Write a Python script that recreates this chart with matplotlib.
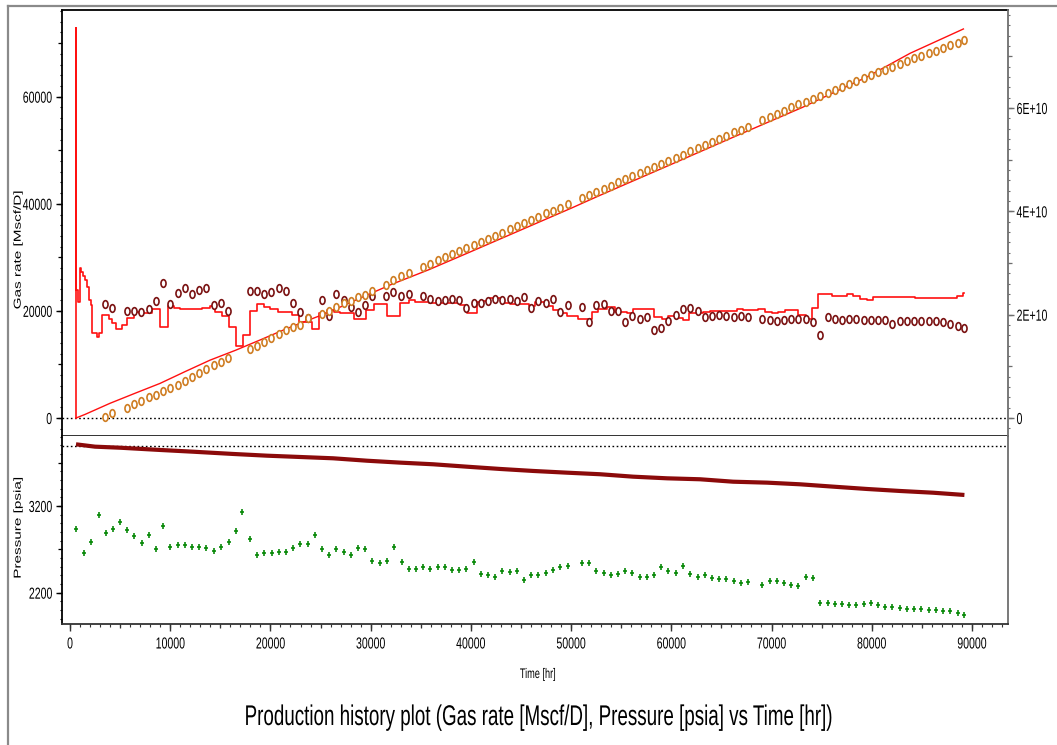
import matplotlib
matplotlib.use('Agg')
import numpy as np
import matplotlib.pyplot as plt
from matplotlib.ticker import MultipleLocator, FuncFormatter, NullLocator, NullFormatter
from matplotlib.lines import Line2D
from matplotlib.path import Path
from matplotlib.patheffects import AbstractPathEffect
from matplotlib.transforms import Affine2D, Bbox
from matplotlib.text import Text

# ---------------- data ----------------
# gas rate step history [Mscf/D] (step starts, hr)
t_rate = [595, 599, 640, 800, 950, 1100, 1300, 1500, 1700, 1900, 2096, 2196, 2695, 2928, 3194,
          3859, 4192, 4624, 5190, 5689, 6355, 6920, 8184, 9013, 9778, 10344, 11010, 13174,
          14006, 14505, 15170, 15836, 16568, 17267, 17999, 18665, 19330, 19996, 20761, 22158,
          22823, 24154, 24886, 25651, 26316, 26982, 28313, 29544, 30309, 31640, 32971, 33803,
          34468, 35799, 38959, 39625, 40623, 41188, 41953, 43051, 43883, 45779, 46444, 47405,
          48237, 48902, 49568, 50732, 52063, 52729, 53560, 54392, 55556, 56221, 58284, 59049,
          59714, 60380, 61145, 61810, 63208, 63873, 66535, 67200, 68697, 69363, 70028, 70693,
          71359, 72690, 73400, 74020, 74686, 76016, 77513, 78178, 78844, 79509, 80174, 83667,
          84333, 88491, 89156, 89222]
q_rate = [0, 72900, 23900, 21700, 28000, 27300, 26500, 25800, 24500, 22050, 21120, 15820, 15200,
          15820, 19250, 18440, 17690, 16630, 17380, 18630, 19870, 19690, 20310, 17070, 20930,
          20500, 20310, 20560, 20930, 19870, 19060, 17070, 13460, 15510, 19990, 21370, 20810,
          20430, 19870, 19250, 18000, 16570, 19560, 20190, 19870, 19690, 18500, 20190, 21310,
          19130, 21430, 22050, 21740, 21430, 21180, 19690, 21740, 21930, 22370, 21430, 21240,
          20930, 21740, 20930, 20190, 19560, 19130, 18440, 19870, 20370, 20680, 19870, 19560,
          20310, 18810, 18500, 19130, 18630, 18320, 19690, 19870, 20000, 20310, 20120, 20310,
          19870, 19690, 19870, 20120, 19190, 18440, 20620, 23110, 22860, 23110, 22800, 22300,
          21990, 22550, 22680, 22490, 22800, 23300, 23300]

# cumulative gas (simulated line) [scf]
t_cum = [599, 1500, 3992, 6500, 8982, 11500, 13972, 16500, 18962, 21500, 23860, 25618, 28942,
         32000, 35800, 40000, 45000, 50000, 53000, 60000, 66000, 73060, 76000, 79510, 83840, 89150]
g_cum = [0.0, 0.7e9, 2.85e9, 4.8e9, 6.7e9, 9.0e9, 11.2e9, 13.1e9, 15.1e9, 17.2e9, 19.0e9,
         20.3e9, 23.2e9, 25.8e9, 28.7e9, 32.2e9, 36.4e9, 40.6e9, 43.2e9, 49.1e9, 54.2e9,
         60.1e9, 62.8e9, 66.0e9, 70.6e9, 75.3e9]

# measured gas rate & cumulative (circles)
t_circ = [3523, 4222, 5719, 6387, 7116, 7855, 8613, 9312, 9980, 10749, 11447, 12206, 12874,
          13573, 14371, 15070, 15768, 17934, 18633, 19331, 20090, 20828, 21527, 22225, 22954,
          23722, 25150, 25878, 26547, 27315, 28014, 28713, 29470, 30169, 31567, 32265, 33034,
          33802, 35229, 35928, 36696, 37395, 38153, 38852, 39521, 40319, 41018, 41686, 42415,
          43143, 43881, 44610, 45308, 46007, 46735,
          47505, 48203, 48902, 49670, 51130, 51830, 52525, 53260, 53960, 54660, 55420, 56120,
          56890, 57550, 58250, 59010, 59710, 60450, 61180, 61880, 62640, 63340, 64070, 64770,
          65470, 66230, 66930, 67630, 69090, 69830, 70560, 71260, 71990, 72690, 73450, 74150,
          74850, 75620, 76310, 77010, 77780, 78470, 79210, 79910, 80610, 81340, 82060, 82800,
          83530, 84230, 84960, 85700, 86430, 87130, 87820, 88590, 89250]
q_circ = [21306, 20559, 20060, 20060, 19811, 20310, 21805, 25169, 21306, 23425, 24235, 23238,
          23985, 24235, 21057, 21555, 20060, 23736, 23674, 23238, 23487, 24235, 23736, 21555,
          19811, 18627, 21992, 19063, 23238, 21992, 20808, 19811, 21057, 22739, 22739, 23487,
          22739, 23238, 22739, 22241, 21805, 21992, 22241, 21992, 20559, 21555, 21555, 21805,
          22241, 21992, 22241, 21805, 22553, 20559, 21805,
          21555, 22303, 19811, 21057, 20808, 18005, 21057, 21306, 20060, 20060, 17880, 19063,
          18565, 18814, 16385, 16883, 18129, 19313, 20310, 20559, 20060, 18814, 19063, 19313,
          19063, 18814, 19063, 18814, 18565, 18316, 18129, 18316, 18565, 18565, 18565, 17880,
          15450, 18814, 18565, 18316, 18565, 18565, 18316, 18316, 18316, 18316, 17631, 18129,
          18129, 18129, 18129, 18129, 18129, 17880, 17631, 17132, 16883]
g_circ = [0.25e9, 1.0e9, 2.0e9, 2.8e9, 3.2e9, 4.0e9, 4.5e9, 5.3e9, 5.9e9, 6.4e9, 7.2e9, 8.0e9,
          8.8e9, 9.5e9, 10.3e9, 10.8e9, 11.6e9, 13.3e9, 13.9e9, 14.8e9, 15.5e9, 16.3e9, 17.0e9,
          17.6e9, 18.1e9, 19.3e9, 20.1e9, 20.7e9, 21.4e9, 22.2e9, 22.7e9, 23.5e9, 23.8e9,
          24.6e9, 25.8e9, 26.7e9, 27.4e9, 28.1e9, 29.3e9, 29.9e9, 30.5e9, 31.1e9, 31.7e9,
          32.3e9, 32.9e9, 33.5e9, 34.1e9, 34.7e9, 35.3e9, 35.9e9, 36.5e9, 37.1e9, 37.7e9,
          38.3e9, 38.9e9,
          39.6e9, 40.1e9, 40.7e9, 41.4e9, 42.6e9, 43.2e9, 43.8e9, 44.4e9, 45.0e9, 45.6e9,
          46.2e9, 46.8e9, 47.4e9, 48.0e9, 48.6e9, 49.2e9, 49.8e9, 50.4e9, 51.0e9, 51.6e9,
          52.2e9, 52.8e9, 53.4e9, 54.0e9, 54.6e9, 55.3e9, 55.8e9, 56.4e9, 57.6e9, 58.3e9,
          58.9e9, 59.5e9, 60.1e9, 60.7e9, 61.2e9, 61.8e9, 62.3e9, 62.9e9, 63.5e9, 64.0e9,
          64.6e9, 65.2e9, 65.8e9, 66.3e9, 66.9e9, 67.4e9, 68.0e9, 68.6e9, 69.1e9, 69.6e9,
          70.1e9, 70.6e9, 71.1e9, 71.6e9, 72.1e9, 72.6e9, 73.2e9]

# simulated pressure line [psia]
t_pres = [599, 2495, 4990, 8982, 12275, 16267, 19660, 22954, 26247, 29641, 32934, 36227, 39621,
          42914, 46207, 49601, 52894, 56187, 59581, 62874, 66167, 69561, 72854, 76147, 79541,
          82834, 86127, 89251]
p_pres = [3911, 3884, 3872, 3846, 3826, 3800, 3780, 3765, 3750, 3722, 3700, 3681, 3653, 3627,
          3604, 3584, 3566, 3538, 3519, 3508, 3480, 3469, 3450, 3423, 3396, 3373, 3353, 3327]

# measured pressure (green crosses)
t_obs = [599, 1397, 2096, 2864, 3563, 4262, 5020, 5719, 6387, 7156, 7855, 8613, 9312, 9980,
         10749, 11477, 12206, 12904, 13603, 14371, 15070, 15838, 16537, 17195, 17964, 18692,
         19361, 20129, 20828, 21557, 22255, 22954, 23722, 24451, 25180, 25878, 26547, 27315,
         28014, 28713, 29480, 30179, 30938, 31636, 32335, 33103, 33802, 34530, 35229, 35928,
         36696, 37395, 38153, 38852, 39521, 40319, 41018, 41686, 42415, 43143, 43881, 44610,
         45308, 46007, 46735,
         47505, 48203, 48902, 49670, 51130, 51830, 52525, 53260, 53960, 54660, 55420, 56120,
         56890, 57550, 58250, 59010, 59710, 60450, 61180, 61880, 62640, 63340, 64070, 64770,
         65470, 66230, 66930, 67630, 69090, 69830, 70560, 71260, 71990, 72690, 73450, 74150,
         74850, 75620, 76310, 77010, 77780, 78470, 79210, 79910, 80610, 81340, 82060, 82800,
         83530, 84230, 84960, 85700, 86430, 87130, 87820, 88590, 89250]
p_obs = [2939, 2654, 2789, 3092, 2893, 2939, 3016, 2923, 2850, 2777, 2870, 2700, 2973, 2731,
         2747, 2747, 2731, 2731, 2716, 2685, 2731, 2789, 2908, 3131, 2823, 2639, 2658, 2658,
         2674, 2674, 2716, 2762, 2762, 2866, 2700, 2639, 2700, 2670, 2639, 2716, 2700, 2566,
         2539, 2570, 2731, 2554, 2478, 2478, 2493, 2478, 2493, 2493, 2462, 2462, 2478, 2554,
         2416, 2401, 2385, 2447, 2435, 2447, 2343, 2401, 2401,
         2431, 2462, 2493, 2508, 2539, 2539, 2447, 2431, 2401, 2416, 2447, 2431, 2385, 2385,
         2401, 2493, 2447, 2431, 2508, 2416, 2385, 2401, 2370, 2355, 2355, 2339, 2308, 2324,
         2293, 2332, 2332, 2308, 2293, 2278, 2385, 2370, 2086, 2086, 2070, 2070, 2055, 2055,
         2070, 2086, 2055, 2039, 2039, 2024, 2016, 2016, 2016, 2001, 2001, 1986, 1986, 1970,
         1940]

p_ref = 3897  # dotted reference line in pressure panel

# ---------------- styling helpers ----------------
SX = 0.66  # horizontal squeeze of the reference rendering


def _pivot(x0, x1, align):
    if align == 'left':
        return x0
    if align == 'right':
        return x1
    return 0.5 * (x0 + x1)


class HSqueeze(AbstractPathEffect):
    """Draw text squeezed horizontally about its aligned edge/centre."""

    def __init__(self, sx=SX, align='center'):
        super().__init__()
        self.sx = sx
        self.align = align

    def draw_path(self, renderer, gc, tpath, affine, rgbFace=None):
        bb = tpath.get_extents(affine)
        cx = _pivot(bb.x0, bb.x1, self.align)
        aff = affine + Affine2D().translate(-cx, 0).scale(self.sx, 1.0).translate(cx, 0)
        renderer.draw_path(gc, tpath, aff, rgbFace)


class SqueezedText(Text):
    """Text whose reported extent matches the squeezed drawing."""

    def get_window_extent(self, renderer=None, dpi=None):
        bb = super().get_window_extent(renderer, dpi)
        sx = getattr(self, '_sq_sx', 1.0)
        cx = _pivot(bb.x0, bb.x1, getattr(self, '_sq_align', 'center'))
        return Bbox.from_extents(cx + (bb.x0 - cx) * sx, bb.y0,
                                 cx + (bb.x1 - cx) * sx, bb.y1)


def squeeze(txt, align):
    txt.set_path_effects([HSqueeze(SX, align)])
    txt.__class__ = SqueezedText
    txt._sq_sx = SX
    txt._sq_align = align
    return txt


_c = Path.unit_circle()
RING = Path(_c.vertices * np.array([SX, 1.0]), _c.codes)
PLUS = Path([(-SX, 0), (SX, 0), (0, -1), (0, 1)],
            [Path.MOVETO, Path.LINETO, Path.MOVETO, Path.LINETO])

plt.rcParams['font.family'] = ['Liberation Sans', 'DejaVu Sans']

W, H = 1057, 745
fig = plt.figure(figsize=(W / 100, H / 100), dpi=100)


def fx(px):
    return px / W


def fy(py):
    return 1 - py / H


ax1 = fig.add_axes([fx(62), fy(436), fx(1008) - fx(62), fy(10) - fy(436)])
ax3 = fig.add_axes([fx(62), fy(624), fx(1008) - fx(62), fy(436) - fy(624)], sharex=ax1)
ax2 = ax1.twinx()

DARK = '#7A1212'
ORANGE = '#CF7D22'
GREY = '#6E6E6E'

# upper panel
ax1.plot(t_rate, q_rate, drawstyle='steps-post', color='#FF1010', lw=1.2, zorder=2)
ax1.plot(t_circ, q_circ, ls='none', marker=RING, ms=5.5, mfc='white', mec=DARK, mew=1.2,
         zorder=3)
ax1.axhline(0, color='black', lw=1.0, ls=(0, (1.2, 1.8)), zorder=1)
ax2.plot(t_cum, g_cum, color='#FF1010', lw=1.0, zorder=2)
ax2.plot(t_circ, g_circ, ls='none', marker=RING, ms=5.5, mfc='white', mec=ORANGE, mew=1.2,
         zorder=3)

ax1.set_xlim(-800, 93600)
ax1.set_ylim(-3361, 76190)
ax2.set_ylim(-3.48e9, 7.897e10)

# lower panel
ax3.plot(t_pres, p_pres, color='#8B0A0A', lw=3.0, solid_capstyle='butt', zorder=2)
ax3.plot(t_obs, p_obs, ls='none', marker=PLUS, ms=5, mew=1.2, mfc='none', mec='#0A8A0A',
         zorder=3)
ax3.axhline(p_ref, color='black', lw=1.0, ls=(0, (1.2, 1.8)), zorder=1)
ax3.set_ylim(1839, 4007)

# spines
for a in (ax1, ax2, ax3):
    for s in a.spines.values():
        s.set_linewidth(1.3)
ax1.spines['top'].set_color('black')
ax1.spines['left'].set_color('black')
ax1.spines['bottom'].set_color('#222222')
ax2.spines['right'].set_color(GREY)
ax2.spines['left'].set_visible(False)
ax2.spines['top'].set_visible(False)
ax2.spines['bottom'].set_visible(False)
ax1.spines['right'].set_visible(False)
ax3.spines['top'].set_visible(False)
ax3.spines['right'].set_color(GREY)
ax3.spines['left'].set_color('black')
ax3.spines['bottom'].set_color('#333333')

TL = 11.5  # tick label size

# ticks: x
ax1.tick_params(axis='x', which='both', bottom=False, labelbottom=False)
ax3.xaxis.set_major_locator(MultipleLocator(10000))
ax3.xaxis.set_minor_locator(MultipleLocator(1000))
ax3.tick_params(axis='x', which='major', direction='out', length=5, width=1.0, pad=4,
                labelsize=TL, color='#333333')
ax3.tick_params(axis='x', which='minor', direction='out', length=1.8, width=0.8, color='#333333')
secx = ax3.secondary_xaxis('bottom')
secx.xaxis.set_major_locator(MultipleLocator(5000))
secx.xaxis.set_minor_locator(NullLocator())
secx.xaxis.set_major_formatter(NullFormatter())
secx.tick_params(length=3.2, width=0.9, color='#333333')
secx.spines['bottom'].set_visible(False)

# ticks: left upper
ax1.yaxis.set_major_locator(MultipleLocator(20000))
ax1.yaxis.set_minor_locator(MultipleLocator(2000))
ax1.tick_params(axis='y', which='major', direction='out', length=4, width=1.0, pad=3,
                labelsize=TL)
ax1.tick_params(axis='y', which='minor', direction='out', length=1.3, width=0.8)
secy1 = ax1.secondary_yaxis('left')
secy1.yaxis.set_major_locator(MultipleLocator(10000))
secy1.yaxis.set_minor_locator(NullLocator())
secy1.yaxis.set_major_formatter(NullFormatter())
secy1.tick_params(length=2.8, width=0.9)
secy1.spines['left'].set_visible(False)

# ticks: right upper
ax2.yaxis.set_major_locator(MultipleLocator(2e10))
ax2.yaxis.set_minor_locator(MultipleLocator(2e9))
ax2.yaxis.set_major_formatter(FuncFormatter(
    lambda v, p: '0' if abs(v) < 1 else '%dE+10' % round(v / 1e10)))
ax2.tick_params(axis='y', which='major', direction='out', length=4, width=1.0, pad=2,
                labelsize=TL, color=GREY)
ax2.tick_params(axis='y', which='minor', direction='out', length=1.5, width=0.8, color=GREY)
secy2 = ax2.secondary_yaxis('right')
secy2.yaxis.set_major_locator(MultipleLocator(1e10))
secy2.yaxis.set_minor_locator(NullLocator())
secy2.yaxis.set_major_formatter(NullFormatter())
secy2.tick_params(length=2.8, width=0.9, color=GREY)
secy2.spines['right'].set_visible(False)

# ticks: left lower
ax3.yaxis.set_major_locator(MultipleLocator(1000, offset=200))
ax3.yaxis.set_minor_locator(MultipleLocator(100))
ax3.tick_params(axis='y', which='major', direction='out', length=4, width=1.0, pad=3,
                labelsize=TL)
ax3.tick_params(axis='y', which='minor', direction='out', length=1.3, width=0.8)
secy3 = ax3.secondary_yaxis('left')
secy3.yaxis.set_major_locator(MultipleLocator(500, offset=200))
secy3.yaxis.set_minor_locator(NullLocator())
secy3.yaxis.set_major_formatter(NullFormatter())
secy3.tick_params(length=2.8, width=0.9)
secy3.spines['left'].set_visible(False)
ax3.tick_params(axis='y', which='both', right=False)

# labels
squeeze(fig.text(fx(18), fy(250), 'Gas rate [Mscf/D]', rotation=90, ha='center', va='center',
                 fontsize=11), 'center')
squeeze(fig.text(fx(18), fy(528), 'Pressure [psia]', rotation=90, ha='center', va='center',
                 fontsize=11), 'center')
squeeze(fig.text(fx(538), fy(674), 'Time [hr]', ha='center', va='center', fontsize=10),
        'center')
squeeze(fig.text(fx(538), fy(718),
                 'Production history plot (Gas rate [Mscf/D], Pressure [psia] vs Time [hr])',
                 ha='center', va='center', fontsize=20.5), 'center')

# outer frame (top and left edges)
fig.add_artist(Line2D([fx(8), 1.0], [fy(6), fy(6)], transform=fig.transFigure,
                      color='#8A8A8A', lw=1.6))
fig.add_artist(Line2D([fx(8), fx(8)], [fy(6), 0.0], transform=fig.transFigure,
                      color='#8A8A8A', lw=1.6))

# squeeze tick labels (ticks are created at first draw)
fig.canvas.draw()
for t in ax3.xaxis.get_major_ticks():
    squeeze(t.label1, 'center')
for a in (ax1, ax3):
    for t in a.yaxis.get_major_ticks():
        squeeze(t.label1, 'right')
for t in ax2.yaxis.get_major_ticks():
    squeeze(t.label2, 'left')

fig.savefig('out.png', dpi=100)
